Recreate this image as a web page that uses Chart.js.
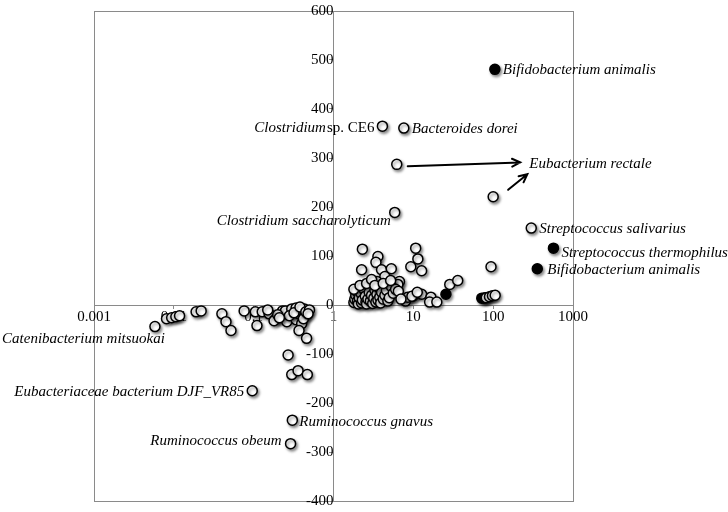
<!DOCTYPE html>
<html>
<head>
<meta charset="utf-8">
<script src="https://cdn.jsdelivr.net/npm/chart.js@4/dist/chart.umd.min.js"></script>
<style>
    body { margin: 0; background: #fff; }
    #wrap { width: 728px; height: 512px; }
</style>
</head>
<body>
<div id="wrap"><canvas id="scatter" width="728" height="512"></canvas></div>
<script>
// tick labels
const xTickValues = [0.001, 0.01, 0.1, 1, 10, 100, 1000];
const xTickLabels = ["0.001", "0.01", "0.1", "1", "10", "100", "1000"];

// open circles
const openX = [
    4.1, 7.6, 6.2, 100, 5.85, 300, 94,
    2.3, 3.6, 3.4, 2.25, 4.0, 5.3, 4.4, 6.7, 6.4, 3.5, 2.75, 2.0,
    10.7, 11.4, 9.3, 12.7, 28.6, 36, 12.7, 9.9, 8, 16.6, 16, 19.7, 8.5, 9.6, 11.2,
    82, 90, 98, 106,
    1.8, 1.85, 1.9, 1.95, 2.0, 2.05, 2.1, 2.2, 2.25, 2.3, 2.4, 2.5, 2.55, 2.6, 2.7, 2.8, 2.9,
    3.0, 3.1, 3.2, 3.3, 3.4, 3.5, 3.6, 3.7, 3.8, 3.9, 4.0, 4.2, 4.4, 4.6, 4.8, 5.0, 5.3,
    5.6, 6.0, 6.5, 7.0, 1.8, 2.15, 2.6, 3.0, 3.3, 4.2, 5.2,
    0.0058, 0.0081, 0.0094, 0.0106, 0.0118, 0.019, 0.022, 0.040, 0.045, 0.052,
    0.076, 0.105, 0.11, 0.128, 0.156, 0.19, 0.18, 0.22, 0.23, 0.26, 0.25, 0.30, 0.34,
    0.34, 0.37, 0.41, 0.43, 0.44, 0.40, 0.37, 0.46, 0.2, 0.28, 0.32, 0.38, 0.42, 0.45,
    0.5, 0.48, 0.15, 0.21,
    0.27, 0.30, 0.36, 0.47, 0.096, 0.305, 0.29
];
const openY = [
    365, 361, 287, 221, 189, 157, 78,
    114, 99, 87, 72, 72, 74, 58, 48, 42, 48, 38, 30,
    116, 94, 78, 70, 42, 50, 22, 18, 8, 16, 6, 6, 16, 18, 26,
    15, 17, 19, 20,
    5, 12, 20, 28, 8, 2, 15, 24, 4, 10, 32, 18, 6, 2, 12, 26, 8,
    20, 3, 14, 30, 6, 22, 10, 35, 16, 4, 26, 12, 20, 30, 8, 15, 38,
    24, 32, 28, 12, 32, 40, 44, 52, 40, 44, 50,
    -44, -28, -26, -24, -22, -14, -12, -18, -34, -52,
    -12, -14, -42, -14, -18, -28, -32, -18, -12, -34, -12, -8, -6,
    -30, -18, -12, -8, -22, -38, -52, -68, -20, -22, -16, -4, -28, -14,
    -10, -18, -10, -26,
    -102, -142, -134, -142, -175, -235, -283
];

// filled circles
const blackX = [105, 569, 357, 25.6, 72, 76, 80];
const blackY = [481, 116, 74, 22, 14, 14, 15];

// species labels and the point each one belongs to
const labelNames = [
    "Bifidobacterium animalis", "Clostridium", "Bacteroides dorei", "Eubacterium rectale",
    "Clostridium saccharolyticum", "Streptococcus salivarius", "Streptococcus thermophilus",
    "Bifidobacterium animalis", "Catenibacterium mitsuokai", "Eubacteriaceae bacterium DJF_VR85",
    "Ruminococcus gnavus", "Ruminococcus obeum"
];
const labelX = [105, 4.1, 7.6, 283, 5.85, 300, 569, 357, 0.0058, 0.096, 0.305, 0.29];
const labelY = [481, 365, 361, 288, 189, 157, 116, 74, -44, -175, -235, -283];

// arrows to the Eubacterium rectale label (data coordinates)
const arrowFrom = [[8.5, 283], [154, 235]];
const arrowTo = [[218, 291], [268, 267]];

const frameColor = "#8a8a8a";
const serif = "'Liberation Serif', 'Times New Roman', serif";

const shadowPlugin = {
    id: "shadow",
    beforeDatasetsDraw(chart) {
        const ctx = chart.ctx;
        ctx.save();
        ctx.shadowColor = "rgba(0,0,0,0.45)";
        ctx.shadowBlur = 3;
        ctx.shadowOffsetX = 1.5;
        ctx.shadowOffsetY = 2;
    },
    afterDatasetsDraw(chart) {
        chart.ctx.restore();
    }
};

const framePlugin = {
    id: "frame",
    beforeDraw(chart) {
        const { ctx, chartArea } = chart;
        ctx.save();
        ctx.strokeStyle = frameColor;
        ctx.lineWidth = 1;
        ctx.strokeRect(Math.round(chartArea.left) + 0.5, Math.round(chartArea.top) + 0.5,
            Math.round(chartArea.width), Math.round(chartArea.height));
        ctx.restore();
    }
};

const labelPlugin = {
    id: "speciesLabels",
    afterDatasetsDraw(chart) {
        const { ctx, scales } = chart;
        const x = scales.x, y = scales.y;
        // side, dx, dy for each label
        const place = [
            ["l", 8, 1], ["r", -8, 2], ["l", 8, 1], ["l", 0, 0],
            ["r", -4, 9], ["l", 8, 1], ["l", 8, 5],
            ["l", 10, 1], ["r", 10, 13], ["r", -8, 1],
            ["l", 7, 2], ["r", -9, -3]
        ];
        ctx.save();
        ctx.fillStyle = "#000";
        ctx.textBaseline = "middle";
        labelNames.forEach((name, i) => {
            const px = x.getPixelForValue(labelX[i]) + place[i][1];
            const py = y.getPixelForValue(labelY[i]) + place[i][2];
            ctx.font = "italic 15px " + serif;
            if (i === 1) {
                // "Clostridium sp. CE6": genus italic, rest upright
                ctx.font = "15px " + serif;
                const rest = "sp. CE6";
                const wRest = ctx.measureText(rest).width;
                ctx.textAlign = "right";
                ctx.fillText(rest, px, py);
                ctx.font = "italic 15px " + serif;
                ctx.fillText(name, px - wRest - 1, py);
                return;
            }
            ctx.textAlign = place[i][0] === "l" ? "left" : "right";
            ctx.fillText(name, px, py);
        });

        ctx.strokeStyle = "#000";
        ctx.lineWidth = 2;
        ctx.lineCap = "round";
        arrowFrom.forEach((f, i) => {
            const x0 = x.getPixelForValue(f[0]), y0 = y.getPixelForValue(f[1]);
            const x1 = x.getPixelForValue(arrowTo[i][0]), y1 = y.getPixelForValue(arrowTo[i][1]);
            const a = Math.atan2(y1 - y0, x1 - x0);
            ctx.beginPath();
            ctx.moveTo(x0, y0);
            ctx.lineTo(x1, y1);
            ctx.moveTo(x1 - 9 * Math.cos(a - 0.45), y1 - 9 * Math.sin(a - 0.45));
            ctx.lineTo(x1, y1);
            ctx.lineTo(x1 - 9 * Math.cos(a + 0.45), y1 - 9 * Math.sin(a + 0.45));
            ctx.stroke();
        });
        ctx.restore();
    }
};

const toPoints = (xs, ys) => xs.map((v, i) => ({ x: v, y: ys[i] }));

new Chart(document.getElementById("scatter"), {
    type: "scatter",
    data: {
        datasets: [
            {
                data: toPoints(openX, openY),
                backgroundColor: "#fff",
                borderColor: "#000",
                borderWidth: 1.5,
                pointRadius: 5,
                clip: false
            },
            {
                data: toPoints(blackX, blackY),
                backgroundColor: "#000",
                borderColor: "#000",
                borderWidth: 1.5,
                pointRadius: 5,
                clip: false
            }
        ]
    },
    options: {
        responsive: false,
        animation: false,
        layout: { padding: { left: 94, right: 155, top: 7, bottom: 6 } },
        plugins: { legend: { display: false }, tooltip: { enabled: false } },
        scales: {
            x: {
                type: "logarithmic",
                position: { y: 0 },
                min: 0.001,
                max: 1000,
                afterBuildTicks: scale => {
                    scale.ticks = xTickValues.map(v => ({ value: v }));
                },
                ticks: {
                    autoSkip: false,
                    maxRotation: 0,
                    padding: 0,
                    color: "#000",
                    font: { family: serif, size: 15 },
                    callback: (value, index) => xTickLabels[index]
                },
                grid: { drawOnChartArea: false, tickLength: 3, color: frameColor },
                border: { color: frameColor }
            },
            y: {
                type: "linear",
                position: { x: 1 },
                min: -400,
                max: 600,
                ticks: {
                    stepSize: 100,
                    padding: 2,
                    color: "#000",
                    font: { family: serif, size: 15 }
                },
                grid: { drawOnChartArea: false, tickLength: 4, color: frameColor },
                border: { color: frameColor }
            }
        }
    },
    plugins: [framePlugin, shadowPlugin, labelPlugin]
});
</script>
</body>
</html>
